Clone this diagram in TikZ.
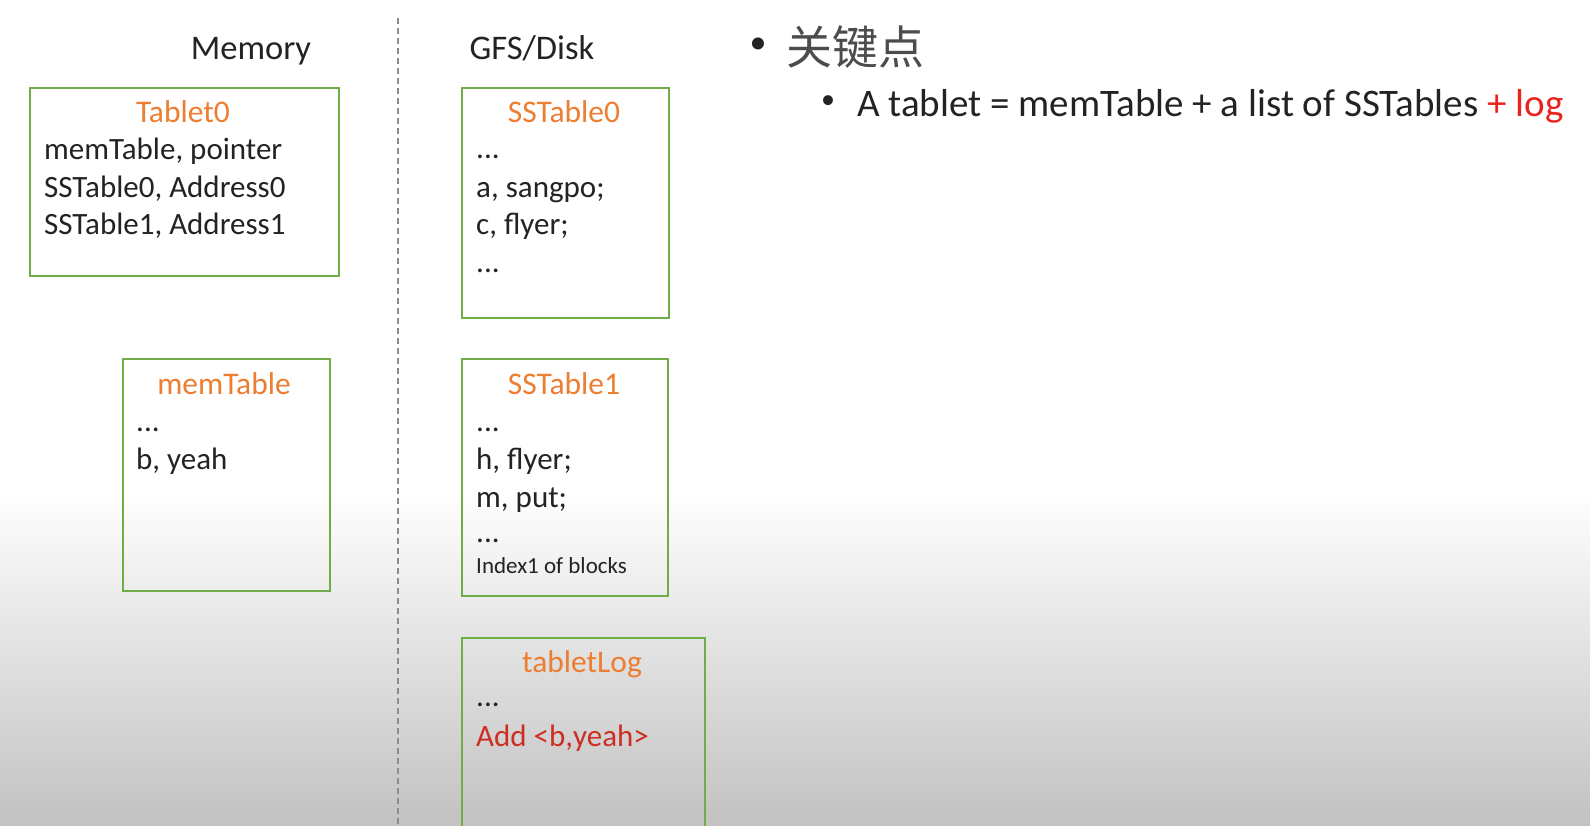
\documentclass[tikz,border=0pt]{standalone}
\usepackage{fontspec}
\setmainfont{Carlito}
\newfontfamily\cjk{Noto Sans CJK SC}
\usetikzlibrary{positioning}

\definecolor{boxgreen}{RGB}{112,173,71}
\definecolor{titleorange}{RGB}{237,125,49}
\definecolor{logred}{RGB}{235,35,30}
\definecolor{addred}{RGB}{205,45,35}
\definecolor{inkgray}{RGB}{35,35,35}

\tikzset{
  tbox/.style={draw=boxgreen, line width=1.5pt, anchor=north west, inner sep=0pt},
  title/.style={text=titleorange, font=\fontsize{31.5}{37}\selectfont, anchor=base, inner sep=0pt},
  entry/.style={text=inkgray, font=\fontsize{31}{37}\selectfont, anchor=base west, inner sep=0pt},
  small entry/.style={entry, font=\fontsize{23}{28}\selectfont},
  head/.style={text=inkgray, font=\fontsize{34.5}{40}\selectfont, anchor=base, inner sep=0pt},
  bullet/.style={text=inkgray, inner sep=0pt, anchor=center}
}

\begin{document}
\begin{tikzpicture}[x=1pt, y=-1pt]
    % Background
    \fill[white] (0,0) rectangle (1590,825);
    \shade[top color=white, bottom color=black!24] (0,490) rectangle (1590,825);
    \useasboundingbox (0,0) rectangle (1590,825);

    % Headers and divider
    \node[head] (memory) at (251,59) {Memory};
    \node[head] (disk) at (532,59) {GFS/Disk};
    \draw[black!45, line width=1.5pt, dash pattern=on 6pt off 4pt] (398,18) -- (398,825);

    % Boxes
    \node[tbox, minimum width=309pt, minimum height=188pt] (tablet) at (29,87) {};
    \node[tbox, minimum width=207pt, minimum height=230pt] (sst0) at (461,87) {};
    \node[tbox, minimum width=207pt, minimum height=232pt] (memtab) at (122,358) {};
    \node[tbox, minimum width=206pt, minimum height=237pt] (sst1) at (461,358) {};
    \node[tbox, minimum width=243pt, minimum height=200pt] (tlog) at (461,637) {};

    % Tablet0
    \node[title] (tabletT) at (183,122) {Tablet0};
    \node[entry] (tab1) at (44,159) {memTable, pointer};
    \node[entry] (tab2) at (44,197) {SSTable0, Address0};
    \node[entry] (tab3) at (44,234) {SSTable1, Address1};

    % SSTable0
    \node[title] (sst0T) at (564,122) {SSTable0};
    \node[entry] (sst0a) at (476,158) {...};
    \node[entry] (sst0b) at (476,197) {a, sangpo;};
    \node[entry] (sst0c) at (476,234) {c, flyer;};
    \node[entry] (sst0d) at (476,272) {...};

    % memTable
    \node[title] (memT) at (224,394) {memTable};
    \node[entry] (mem1) at (136,431) {...};
    \node[entry] (mem2) at (136,469) {b, yeah};

    % SSTable1
    \node[title] (sst1T) at (564,394) {SSTable1};
    \node[entry] (sst1a) at (476,431) {...};
    \node[entry] (sst1b) at (476,469) {h, flyer;};
    \node[entry] (sst1c) at (476,507) {m, put;};
    \node[entry] (sst1d) at (476,542) {...};
    \node[small entry] (sst1e) at (476,573) {Index1 of blocks};

    % tabletLog
    \node[title] (tlogT) at (582,672) {tabletLog};
    \node[entry] (tlog1) at (476,706) {...};
    \node[entry, text=addred] (tlog2) at (476,746) {Add <b,yeah>};

    % Key points
    \node[bullet, font=\fontsize{34}{40}\selectfont] (dot1) at (758,46) {•};
    \node[text=black!70, font=\cjk\fontsize{46}{52}\selectfont, anchor=base west, inner sep=0pt] (keys) at (786,64) {关键点};
    \node[bullet, font=\fontsize{28}{34}\selectfont] (dot2) at (828,102) {•};
    \node[entry, font=\fontsize{39}{45}\selectfont] (keyline) at (857,116)
        {A tablet = memTable + a list of SSTables \textcolor{logred}{+ log}};
\end{tikzpicture}
\end{document}
